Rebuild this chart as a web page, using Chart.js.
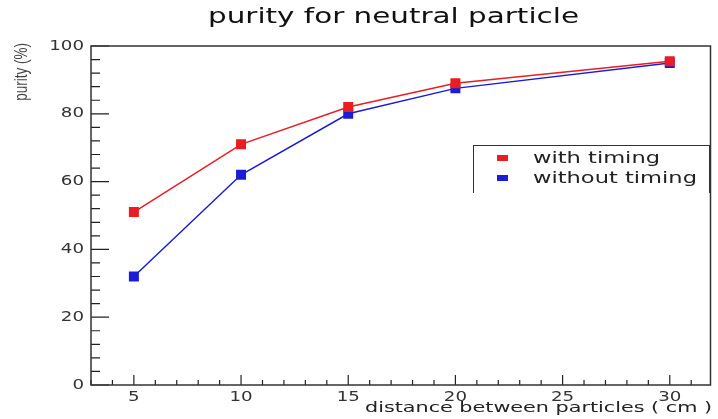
<!DOCTYPE html>
<html>
<head>
<meta charset="utf-8">
<script src="https://cdn.jsdelivr.net/npm/chart.js@4.4.1/dist/chart.umd.min.js"></script>
<style>
  body { margin: 0; background: #fff; }
  #wrap { position: relative; width: 718px; height: 419px; }
  #legend {
    position: absolute; left: 473px; top: 145px; width: 237px; height: 48px;
    border: 1.5px solid #333; border-bottom: none; box-sizing: border-box;
    font-family: "DejaVu Sans", sans-serif; font-size: 16px; color: #222;
  }
  .row { position: absolute; left: 0; width: 100%; height: 20px; line-height: 20px; white-space: nowrap; }
  .mark { position: absolute; left: 23px; top: 7px; width: 11px; height: 6px; }
  .txt { position: absolute; left: 59px; transform: scaleX(1.41); transform-origin: left center; }
</style>
</head>
<body>
<div id="wrap">
  <canvas id="purityChart" width="718" height="419"></canvas>
  <div id="legend"></div>
</div>
<script>
const distances = [5, 10, 15, 20, 30];
const withTiming = [51, 71, 82, 89, 95.5];
const withoutTiming = [32, 62, 80, 87.5, 95];
const xTicks = [5, 10, 15, 20, 25, 30];
const yTicks = [0, 20, 40, 60, 80, 100];

const titleText = 'purity for neutral particle';
const xTitle = 'distance between particles ( cm )';
const yTitle = 'purity (%)';
const redColor = 'rgb(232, 30, 36)';
const blueColor = 'rgb(28, 28, 214)';

// draw a horizontally stretched string (the original picture is stretched sideways)
function wideText(ctx, text, x, y, sx, align) {
  ctx.save();
  ctx.translate(x, y);
  ctx.scale(sx, 1);
  ctx.textAlign = align;
  ctx.fillText(text, 0, 0);
  ctx.restore();
}

// ROOT style frame, inward ticks, tick labels and titles
const rootFrame = {
  id: 'rootFrame',
  beforeDatasetsDraw(chart) {
    const { ctx, chartArea: a, scales: { x, y } } = chart;
    ctx.save();
    ctx.strokeStyle = '#222';
    ctx.lineWidth = 1.2;
    ctx.beginPath();
    for (let v = 3; v <= 31; v++) {
      const px = x.getPixelForValue(v);
      const len = v % 5 === 0 ? 10 : 5;
      ctx.moveTo(px, a.bottom);
      ctx.lineTo(px, a.bottom - len);
    }
    for (let v = 0; v <= 100; v += 4) {
      const py = y.getPixelForValue(v);
      const len = v % 20 === 0 ? 18 : 9;
      ctx.moveTo(a.left, py);
      ctx.lineTo(a.left + len, py);
    }
    ctx.stroke();
    ctx.lineWidth = 1.5;
    ctx.strokeStyle = '#333';
    ctx.strokeRect(a.left, a.top, a.right - a.left, a.bottom - a.top);
    ctx.restore();
  },
  afterDraw(chart) {
    const { ctx, scales: { x, y } } = chart;
    ctx.save();
    ctx.textBaseline = 'middle';

    // tick labels
    ctx.font = '14px "DejaVu Sans"';
    ctx.fillStyle = '#333';
    x.ticks.forEach(t => wideText(ctx, String(t.value), x.getPixelForValue(t.value), 397, 1.3, 'center'));
    y.ticks.forEach(t => wideText(ctx, String(t.value), 84, y.getPixelForValue(t.value), 1.3, 'right'));

    ctx.font = '21px "DejaVu Sans"';
    ctx.fillStyle = '#111';
    wideText(ctx, titleText, 393.5, 18, 1.4, 'center');

    ctx.font = '14px "DejaVu Sans"';
    ctx.fillStyle = '#222';
    wideText(ctx, xTitle, 712, 408, 1.48, 'right');

    ctx.font = '13.5px "Liberation Sans"';
    ctx.fillStyle = '#444';
    ctx.textAlign = 'right';
    ctx.translate(22, 43);
    ctx.rotate(-Math.PI / 2);
    ctx.scale(1, 1.4);
    ctx.fillText(yTitle, 0, 0);
    ctx.restore();
  }
};

const ctx = document.getElementById('purityChart').getContext('2d');

const purityChart = new Chart(ctx, {
  type: 'scatter',
  data: {
    datasets: [{
      label: 'with timing',
      data: distances.map((d, i) => ({ x: d, y: withTiming[i] })),
      borderColor: redColor,
      backgroundColor: redColor,
      showLine: true,
      borderWidth: 1.5,
      pointStyle: 'rect',
      pointRadius: 6
    }, {
      label: 'without timing',
      data: distances.map((d, i) => ({ x: d, y: withoutTiming[i] })),
      borderColor: blueColor,
      backgroundColor: blueColor,
      showLine: true,
      borderWidth: 1.5,
      pointStyle: 'rect',
      pointRadius: 6
    }]
  },
  options: {
    responsive: false,
    animation: false,
    layout: { padding: { top: 46, right: 5, left: 0, bottom: 0 } },
    plugins: {
      legend: { display: false },
      tooltip: { enabled: false }
    },
    scales: {
      x: {
        type: 'linear',
        min: 3,
        max: 31.9,
        grid: { display: false, drawTicks: false },
        border: { display: false },
        afterBuildTicks: scale => { scale.ticks = xTicks.map(v => ({ value: v })); },
        afterFit: scale => { scale.height = 34; },
        ticks: { display: false }
      },
      y: {
        min: 0,
        max: 100,
        grid: { display: false, drawTicks: false },
        border: { display: false },
        afterBuildTicks: scale => { scale.ticks = yTicks.map(v => ({ value: v })); },
        afterFit: scale => { scale.width = 91; },
        ticks: { display: false }
      }
    }
  },
  plugins: [rootFrame]
});

// legend built from the datasets
const legendBox = document.getElementById('legend');
purityChart.data.datasets.forEach((ds, i) => {
  const row = document.createElement('div');
  row.className = 'row';
  row.style.top = (2 + i * 20) + 'px';
  row.innerHTML = `<span class="mark" style="background:${ds.backgroundColor}"></span><span class="txt">${ds.label}</span>`;
  legendBox.appendChild(row);
});
</script>
</body>
</html>
